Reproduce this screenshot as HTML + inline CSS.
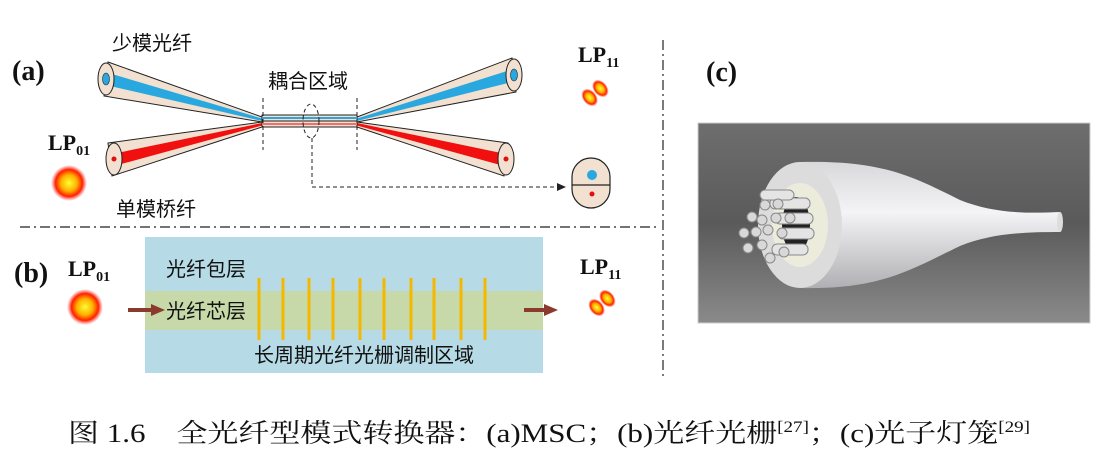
<!DOCTYPE html>
<html><head><meta charset="utf-8"><style>
html,body{margin:0;padding:0;background:#fff;}
svg{display:block}
.t{font-family:"Liberation Sans","Noto Sans CJK SC",sans-serif;font-size:20px;fill:#111}
.b{font-family:"Liberation Serif",serif;font-weight:bold;fill:#111}
</style></head><body>
<svg width="1100" height="456" viewBox="0 0 1100 456" xmlns="http://www.w3.org/2000/svg">
<defs>
<radialGradient id="spot"><stop offset="0" stop-color="#ffff30"/><stop offset="0.45" stop-color="#ffb000"/><stop offset="0.75" stop-color="#ff2000"/><stop offset="1" stop-color="#ff4040" stop-opacity="0"/></radialGradient>
<linearGradient id="bg" x1="0" y1="0" x2="0" y2="1"><stop offset="0" stop-color="#6e6e6e"/><stop offset="0.5" stop-color="#5a5a5a"/><stop offset="1" stop-color="#8a8a8a"/></linearGradient>
<linearGradient id="wh" x1="0" y1="0" x2="0" y2="1"><stop offset="0" stop-color="#d8d8dc"/><stop offset="0.4" stop-color="#f4f4f6"/><stop offset="1" stop-color="#b0b0b4"/></linearGradient>
</defs>
<line x1="20" y1="227" x2="660" y2="227" stroke="#222" stroke-width="1.2" stroke-dasharray="10,4,2,4"/>
<line x1="663" y1="40" x2="663" y2="380" stroke="#222" stroke-width="1.2" stroke-dasharray="10,4,2,4"/>
<!-- (a) -->
<text class="b" x="12" y="80" font-size="28">(a)</text>
<text class="t" x="112" y="50">少模光纤</text>
<text class="t" x="268" y="88">耦合区域</text>
<text class="t" x="116" y="216">单模桥纤</text>
<text class="b" x="48" y="150" font-size="22">LP<tspan font-size="14" dy="5">01</tspan></text>
<text class="b" x="578" y="62" font-size="22">LP<tspan font-size="14" dy="5">11</tspan></text>
<circle cx="69" cy="183" r="18" fill="url(#spot)"/>
<g transform="rotate(-40 595 93)"><ellipse cx="588" cy="93" rx="7" ry="10" fill="url(#spot)"/><ellipse cx="602" cy="93" rx="7" ry="10" fill="url(#spot)"/></g>
<g stroke="#222" stroke-width="1">
<polygon points="108,62 262,117 262,122 104,96" fill="#f2e0d0"/>
<polygon points="112,74 262,118.5 262,121 110,86" fill="#29a8e0" stroke="none"/>
<polygon points="108,143 262,122 262,127 112,176" fill="#f2e0d0"/>
<polygon points="112,154 262,123 262,125.5 114,166" fill="#f01010" stroke="none"/>
<polygon points="512,58 357,117 357,122 516,92" fill="#f2e0d0"/>
<polygon points="510,70 357,118.5 357,121 512,82" fill="#29a8e0" stroke="none"/>
<polygon points="508,143 357,122 357,127 504,176" fill="#f2e0d0"/>
<polygon points="506,154 357,123 357,125.5 504,166" fill="#f01010" stroke="none"/>
<rect x="262" y="115" width="95" height="6" fill="#f2e0d0"/>
<rect x="262" y="121" width="95" height="6" fill="#f2e0d0"/>
<ellipse cx="106" cy="79" rx="8" ry="16" fill="#f2e0d0"/>
<ellipse cx="114" cy="159" rx="8" ry="16" fill="#f2e0d0"/>
<ellipse cx="514" cy="75" rx="8" ry="16" fill="#f2e0d0"/>
<ellipse cx="506" cy="159" rx="8" ry="16" fill="#f2e0d0"/>
</g>
<rect x="262" y="117" width="95" height="2" fill="#29a8e0"/>
<rect x="262" y="123" width="95" height="2" fill="#f07070"/>
<ellipse cx="106" cy="79" rx="3.5" ry="6" fill="#29a8e0" stroke="#222" stroke-width="0.6"/>
<ellipse cx="514" cy="75" rx="3.5" ry="6" fill="#29a8e0" stroke="#222" stroke-width="0.6"/>
<circle cx="114" cy="159" r="2.5" fill="#e01010"/>
<circle cx="506" cy="159" r="2.5" fill="#e01010"/>
<g stroke="#222" stroke-dasharray="4,3" fill="none" stroke-width="1">
<line x1="263" y1="98" x2="263" y2="150"/><line x1="357" y1="98" x2="357" y2="150"/>
<ellipse cx="311" cy="121" rx="8" ry="17"/>
<polyline points="312,138 312,187 558,187"/>
</g>
<polygon points="566,187 557,183 557,191" fill="#222"/>
<g stroke="#222" stroke-width="1.2" fill="#f2e0d0">
<rect x="572" y="158" width="38" height="50" rx="19"/>
<line x1="572" y1="185" x2="610" y2="185"/>
</g>
<circle cx="592" cy="175" r="5" fill="#29a8e0"/>
<circle cx="592" cy="194" r="2.5" fill="#e01010"/>
<!-- (b) -->
<text class="b" x="14" y="282" font-size="28">(b)</text>
<text class="b" x="68" y="276" font-size="22">LP<tspan font-size="14" dy="5">01</tspan></text>
<text class="b" x="580" y="274" font-size="22">LP<tspan font-size="14" dy="5">11</tspan></text>
<circle cx="85" cy="307" r="18" fill="url(#spot)"/>
<g transform="rotate(-40 602 303)"><ellipse cx="595" cy="303" rx="7" ry="10" fill="url(#spot)"/><ellipse cx="609" cy="303" rx="7" ry="10" fill="url(#spot)"/></g>
<rect x="145" y="237" width="398" height="136" fill="#b6dbe6"/>
<rect x="145" y="291" width="398" height="39" fill="#c7d9a8"/>
<g stroke="#f5b800" stroke-width="3">
<line x1="259" y1="278" x2="259" y2="340"/><line x1="283" y1="278" x2="283" y2="340"/><line x1="309" y1="278" x2="309" y2="340"/><line x1="333" y1="278" x2="333" y2="340"/><line x1="360" y1="278" x2="360" y2="340"/><line x1="384" y1="278" x2="384" y2="340"/><line x1="411" y1="278" x2="411" y2="340"/><line x1="434" y1="278" x2="434" y2="340"/><line x1="461" y1="278" x2="461" y2="340"/><line x1="485" y1="278" x2="485" y2="340"/>
</g>
<text class="t" x="166" y="276">光纤包层</text>
<text class="t" x="166" y="318">光纤芯层</text>
<text class="t" x="254" y="362">长周期光纤光栅调制区域</text>
<rect x="128" y="308" width="24" height="4" fill="#8b3a2e"/><polygon points="165,310 151,304 151,316" fill="#8b3a2e"/>
<rect x="524" y="308" width="20" height="4" fill="#8b3a2e"/><polygon points="558,310 544,304 544,316" fill="#8b3a2e"/>
<!-- (c) -->
<text class="b" x="706" y="81" font-size="28">(c)</text>
<rect x="698" y="123" width="392" height="200" fill="url(#bg)" stroke="#ccc"/>
<path d="M800,162 C880,160 910,175 960,200 C990,212 1020,214 1060,212 L1060,232 C1020,232 990,234 960,246 C910,270 880,290 800,288 Z" fill="url(#wh)"/>
<ellipse cx="800" cy="225" rx="42" ry="63" fill="#dcdcdc"/>
<ellipse cx="800" cy="225" rx="28" ry="42" fill="#ececdc"/>
<ellipse cx="796" cy="225" rx="14" ry="28" fill="#222"/>
<ellipse cx="1060" cy="222" rx="3" ry="10" fill="#ddd"/>
<g fill="#e4e4e4" stroke="#888" stroke-width="1">
<rect x="770" y="198" width="40" height="11" rx="5"/><rect x="775" y="213" width="38" height="11" rx="5"/><rect x="778" y="228" width="36" height="11" rx="5"/><rect x="772" y="244" width="36" height="11" rx="5"/><rect x="760" y="190" width="34" height="10" rx="5"/>
</g>
<g fill="#d8d8d8" stroke="#888" stroke-width="1">
<circle cx="752" cy="217" r="5"/><circle cx="765" cy="205" r="5"/><circle cx="778" cy="204" r="5"/><circle cx="744" cy="233" r="5"/><circle cx="756" cy="232" r="5"/><circle cx="768" cy="230" r="5"/><circle cx="782" cy="233" r="5"/><circle cx="762" cy="220" r="5"/><circle cx="776" cy="218" r="5"/><circle cx="748" cy="248" r="5"/><circle cx="762" cy="245" r="5"/><circle cx="770" cy="258" r="5"/><circle cx="784" cy="252" r="5"/><circle cx="790" cy="218" r="5"/>
</g>
<text x="68" y="442" font-family="'Liberation Serif','Noto Serif CJK SC',serif" font-size="26" fill="#111" textLength="962" lengthAdjust="spacingAndGlyphs">图 1.6　全光纤型模式转换器：(a)MSC；(b)光纤光栅<tspan font-size="16" dy="-10">[27]</tspan><tspan dy="10">；(c)光子灯笼</tspan><tspan font-size="16" dy="-10">[29]</tspan></text>
</svg>
</body></html>
